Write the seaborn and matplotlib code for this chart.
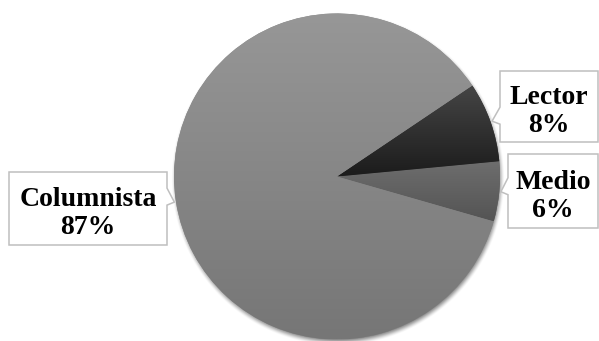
import numpy as np
import matplotlib
matplotlib.use("Agg")
import matplotlib.pyplot as plt
from matplotlib.patches import Polygon
import seaborn as sns

# Share of opinion pieces by author type
categories = ["Medio", "Lector", "Columnista"]
percentages = [6, 8, 87]

# Vertical gradient of each slice: colour at the top, colour at the bottom
top_colors = ["#6e6e6e", "#454545", "#979797"]
bottom_colors = ["#545454", "#1c1c1c", "#767676"]

W, H = 599, 341

sns.set_theme(style="white")
plt.rcParams["font.family"] = ["Liberation Serif", "DejaVu Serif"]

fig = plt.figure(figsize=(W / 100, H / 100), dpi=100)
ax = fig.add_axes([0, 0, 1, 1])

cx, cy, R = 337.0, H - 176.5, 163.0

# soft drop shadow under the pie
ys, xs = np.mgrid[0:H, 0:W] + 0.5
dist = np.hypot(xs - (cx + 1.0), ys - (cy - 2.5))
t = np.clip((R + 4.0 - dist) / 9.0, 0, 1)
shadow = np.zeros((H, W, 4))
shadow[..., 3] = 0.55 * t * t * (3 - 2 * t)
ax.imshow(shadow, extent=(0, W, 0, H), origin="lower", zorder=1,
          interpolation="bilinear")

wedges, _ = ax.pie(percentages, center=(cx, cy), radius=R, startangle=-16,
                   counterclock=True,
                   colors=[sns.blend_palette([b, t_], 3)[1]
                           for t_, b in zip(top_colors, bottom_colors)],
                   wedgeprops=dict(linewidth=0, zorder=2))

# gradient fill clipped to each slice
for w, tc, bc in zip(wedges, top_colors, bottom_colors):
    ext = w.get_patch_transform().transform_path(w.get_path()).get_extents()
    cmap = sns.blend_palette([bc, tc], as_cmap=True)
    grad = np.linspace(0, 1, 256).reshape(-1, 1)
    im = ax.imshow(grad, extent=(ext.x0, ext.x1, ext.y0, ext.y1),
                   origin="lower", cmap=cmap, aspect="auto", zorder=3,
                   interpolation="bilinear")
    im.set_clip_path(w)

ax.set_xlim(0, W)
ax.set_ylim(0, H)
ax.set_aspect("equal")
ax.axis("off")

# callout boxes (left, right, top, bottom in pixels from the top-left corner)
box_px = {
    "Medio": (508, 598, 154, 228),
    "Lector": (500, 598, 71, 142),
    "Columnista": (9, 167, 172, 245),
}

for w, cat, pct in zip(wedges, categories, percentages):
    l, r, top, bot = box_px[cat]
    mid = np.deg2rad((w.theta1 + w.theta2) / 2)
    tipx = cx + 1.01 * R * np.cos(mid)
    tipy = cy + 1.01 * R * np.sin(mid)
    tip_screen = H - tipy
    n1 = H - max(tip_screen - 14, top + 2)
    n2 = H - min(tip_screen + 3, bot - 2)
    T, B = H - top, H - bot
    if tipx < l:
        verts = [(l, T), (r, T), (r, B), (l, B), (l, n2), (tipx, tipy), (l, n1)]
    else:
        verts = [(l, T), (r, T), (r, n1), (tipx, tipy), (r, n2), (r, B), (l, B)]
    ax.add_patch(Polygon(verts, closed=True, facecolor="white",
                         edgecolor="#bfbfbf", linewidth=1.1, zorder=5,
                         joinstyle="miter"))
    # category name above, percentage below, baselines around the box middle
    mid_y = (top + bot) / 2
    for line, base in ((cat, mid_y - 2), (f"{pct}%", mid_y + 26)):
        ax.text((l + r) / 2, H - base, line, ha="center", va="baseline",
                fontsize=20, fontweight="bold", color="black", zorder=6)

fig.savefig("out.png", dpi=100, facecolor="white")
